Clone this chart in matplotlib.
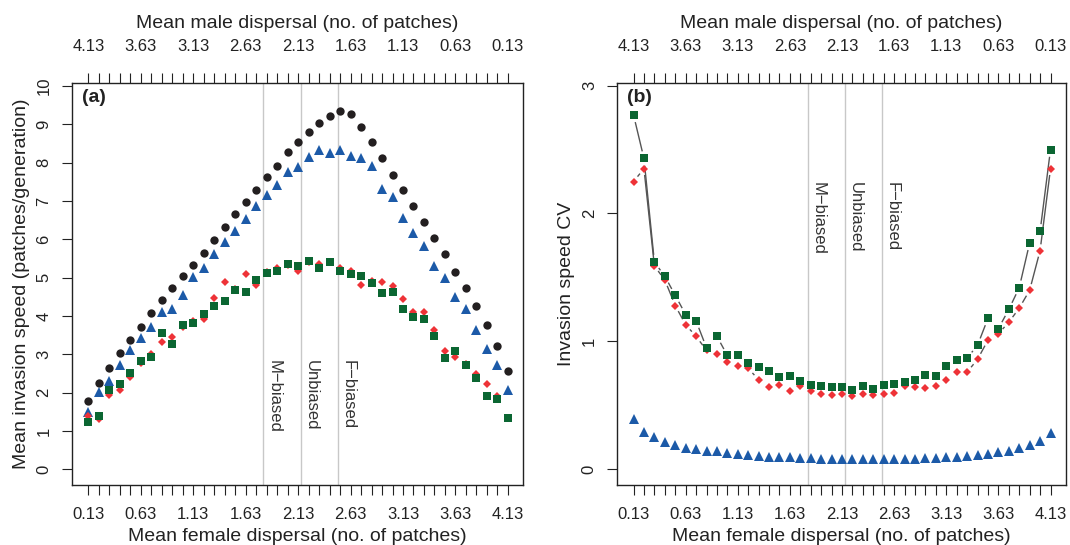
import numpy as np
import matplotlib
matplotlib.use('Agg')
import matplotlib.pyplot as plt

plt.rcParams['font.family'] = ['Liberation Sans', 'DejaVu Sans']
plt.rcParams['font.size'] = 12

# mean female dispersal, 0.13 .. 4.13 in steps of 0.1
female = [round(0.13 + 0.1 * i, 2) for i in range(41)]
total_disp = 4.26  # male = total - female

# panel (a): mean invasion speed
speed_black = [1.78, 2.26, 2.65, 3.03, 3.38, 3.72, 4.07, 4.42, 4.72, 5.03, 5.34,
               5.64, 5.99, 6.31, 6.65, 6.97, 7.30, 7.62, 7.91, 8.27, 8.53, 8.81,
               9.04, 9.22, 9.35, 9.27, 8.92, 8.54, 8.11, 7.69, 7.30, 6.88, 6.46,
               6.03, 5.61, 5.15, 4.72, 4.26, 3.76, 3.22, 2.56]
speed_blue = [1.49, 2.01, 2.30, 2.72, 3.12, 3.43, 3.71, 4.11, 4.19, 4.55, 5.01,
              5.25, 5.63, 5.92, 6.22, 6.52, 6.87, 7.16, 7.42, 7.77, 7.88, 8.16,
              8.33, 8.25, 8.33, 8.17, 8.11, 7.92, 7.31, 7.10, 6.56, 6.17, 5.83,
              5.31, 4.99, 4.50, 4.19, 3.63, 3.15, 2.71, 2.07]
speed_red = [1.40, 1.32, 1.94, 2.07, 2.42, 2.76, 3.00, 3.32, 3.46, 3.70, 3.87,
             3.91, 4.46, 4.89, 4.70, 5.09, 4.82, 5.15, 5.26, 5.33, 5.18, 5.40,
             5.35, 5.40, 5.24, 5.18, 4.81, 4.90, 4.88, 4.78, 4.43, 4.10, 4.10,
             3.63, 3.08, 2.94, 2.75, 2.49, 2.23, 1.90, 1.35]
speed_green = [1.22, 1.40, 2.08, 2.23, 2.51, 2.83, 2.94, 3.56, 3.28, 3.77, 3.81,
               4.06, 4.26, 4.40, 4.68, 4.63, 4.94, 5.13, 5.18, 5.36, 5.30, 5.43,
               5.26, 5.41, 5.18, 5.10, 5.03, 4.86, 4.61, 4.63, 4.18, 3.96, 3.93,
               3.49, 2.89, 3.09, 2.72, 2.39, 1.92, 1.82, 1.34]

# panel (b): invasion speed CV
cv_blue = [0.39, 0.29, 0.255, 0.216, 0.19, 0.17, 0.16, 0.145, 0.145, 0.13, 0.12,
           0.11, 0.105, 0.10, 0.098, 0.094, 0.09, 0.088, 0.083, 0.08, 0.078, 0.078,
           0.078, 0.078, 0.078, 0.08, 0.08, 0.08, 0.088, 0.091, 0.096, 0.099, 0.107,
           0.115, 0.12, 0.135, 0.146, 0.167, 0.187, 0.22, 0.286]
cv_red = [2.25, 2.35, 1.59, 1.48, 1.28, 1.13, 1.04, 0.93, 0.90, 0.84, 0.81,
          0.79, 0.70, 0.64, 0.66, 0.61, 0.65, 0.61, 0.59, 0.58, 0.59, 0.57,
          0.59, 0.58, 0.59, 0.60, 0.65, 0.64, 0.635, 0.65, 0.70, 0.76, 0.76,
          0.86, 1.01, 1.06, 1.15, 1.26, 1.40, 1.71, 2.35]
cv_green = [2.77, 2.43, 1.62, 1.51, 1.36, 1.21, 1.16, 0.95, 1.04, 0.89, 0.89,
            0.83, 0.80, 0.77, 0.72, 0.73, 0.69, 0.66, 0.65, 0.64, 0.64, 0.62,
            0.65, 0.63, 0.66, 0.67, 0.68, 0.70, 0.74, 0.73, 0.81, 0.855, 0.87,
            0.97, 1.18, 1.10, 1.25, 1.42, 1.77, 1.86, 2.50]

bias_pos = [1.80, 2.155, 2.51]
bias_labels = ['M\u2212biased', 'Unbiased', 'F\u2212biased']

tick_pos = female
tick_lab = [f"{v:.2f}" if i % 5 == 0 else '' for i, v in enumerate(female)]
male_ticks = [round(total_disp - v, 2) for v in female]
male_lab = [f"{v:.2f}" if i % 5 == 0 else '' for i, v in enumerate(male_ticks)]

C_BLACK = '#231f20'
C_BLUE = '#1c5aa8'
C_RED = '#ee3237'
C_GREEN = '#0b6632'
C_VLINE = '#c8c8c8'

fig = plt.figure(figsize=(10.7, 5.45), dpi=100)
ax_a = fig.add_axes([0.0669, 0.1095, 0.4223, 0.7382])
ax_b = fig.add_axes([0.5766, 0.1095, 0.4196, 0.7382])


def gapped_line(ax, x, y, gap=8, **kw):
    # R type="b" style: segments stop short of each point
    pts = ax.transData.transform(np.column_stack([x, y]))
    inv = ax.transData.inverted()
    for p0, p1 in zip(pts[:-1], pts[1:]):
        d = p1 - p0
        L = np.hypot(*d)
        if L <= 2 * gap:
            continue
        u = d / L
        seg = inv.transform([p0 + u * gap, p1 - u * gap])
        ax.plot(seg[:, 0], seg[:, 1], **kw)


def style_axes(ax, ylim, yticks, ylabel, tag, text_y):
    ax.set_xlim(-0.029, 4.278)
    ax.set_ylim(*ylim)
    for s in ax.spines.values():
        s.set_linewidth(1.0)
        s.set_color('#222222')
    ax.set_xticks(tick_pos)
    ax.set_xticklabels(tick_lab)
    ax.set_yticks(yticks)
    ax.set_yticklabels([str(v) for v in yticks])
    ax.tick_params(axis='x', length=7, width=0.8, pad=8.5, labelsize=12, colors='#222222')
    ax.tick_params(axis='y', length=7, width=0.8, pad=7.5, labelsize=12, colors='#222222',
                   labelrotation=90)
    for lab in ax.get_yticklabels():
        lab.set_va('center')
    ax.set_xlabel('Mean female dispersal (no. of patches)', fontsize=14, color='#222222')
    ax.xaxis.set_label_coords(0.5, -0.105)
    ax.set_ylabel(ylabel, fontsize=14, color='#222222')
    ax.yaxis.set_label_coords(-0.093, 0.5)

    sec = ax.secondary_xaxis('top', functions=(lambda v: total_disp - v,
                                               lambda v: total_disp - v))
    sec.set_xticks(male_ticks)
    sec.set_xticklabels(male_lab)
    sec.tick_params(axis='x', length=7, width=0.8, pad=14, labelsize=12, colors='#222222')
    sec.spines['top'].set_visible(False)
    sec.set_xlabel('Mean male dispersal (no. of patches)', fontsize=14, color='#222222',
                   labelpad=8)

    for xv, txt in zip(bias_pos, bias_labels):
        ax.axvline(xv, color=C_VLINE, lw=1.0, zorder=1)
        ax.text(xv + 0.03, text_y, txt, rotation=-90, ha='left', va='top',
                fontsize=12, color='#333333', zorder=2)

    ax.text(0.022, 0.985, tag, transform=ax.transAxes, fontsize=14,
            fontweight='bold', ha='left', va='top', color='#222222')


style_axes(ax_a, (-0.42, 10.08), list(range(11)),
           'Mean invasion speed (patches/generation)', '(a)', 2.85)
style_axes(ax_b, (-0.125, 3.02), [0, 1, 2, 3], 'Invasion speed CV', '(b)', 2.25)

# panel (a)
ax_a.plot(female, speed_black, 'o', color=C_BLACK, ms=6, mew=0, zorder=3)
ax_a.plot(female, speed_blue, '^', color=C_BLUE, ms=7, mew=0, zorder=3)
ax_a.plot(female, speed_red, 'D', color=C_RED, ms=4.5, mew=0, zorder=3)
ax_a.plot(female, speed_green, 's', color=C_GREEN, ms=6, mew=0, zorder=4)

# panel (b)
gapped_line(ax_b, female, cv_green, gap=8, color='#555555', lw=1.0, zorder=2)
gapped_line(ax_b, female, cv_red, gap=7, color='#555555', lw=1.0, zorder=2)
ax_b.plot(female, cv_blue, '^', color=C_BLUE, ms=7, mew=0, zorder=3)
ax_b.plot(female, cv_red, 'D', color=C_RED, ms=4.5, mew=0, zorder=3)
ax_b.plot(female, cv_green, 's', color=C_GREEN, ms=6, mew=0, zorder=4)

fig.savefig('out.png', dpi=100)
